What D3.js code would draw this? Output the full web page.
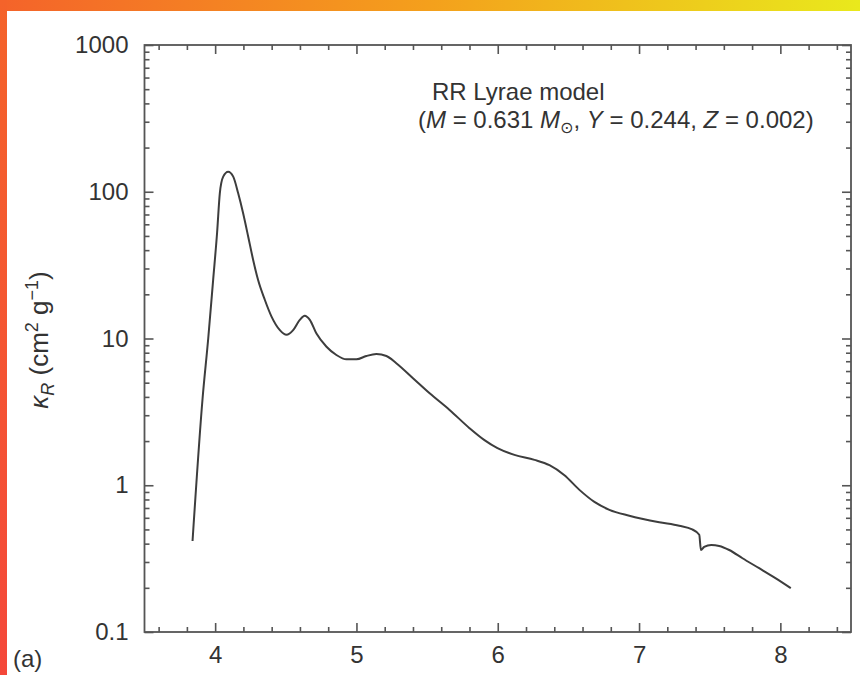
<!DOCTYPE html>
<html>
<head>
<meta charset="utf-8">
<script src="https://cdn.jsdelivr.net/npm/d3@7"></script>
<style>
  html, body { margin: 0; padding: 0; background: #fff; }
  svg { display: block; }
  text { font-family: "Liberation Sans", Arial, Helvetica, sans-serif; fill: #333; }
</style>
</head>
<body>
<svg id="chart" width="860" height="675"></svg>
<script>
// ---- data ----
const logT = [3.84, 3.911, 3.951, 3.986, 4.014, 4.033, 4.057, 4.092, 4.128, 4.163, 4.198, 4.234, 4.269, 4.304,
  4.352, 4.399, 4.458, 4.505, 4.552, 4.599, 4.634, 4.670, 4.717, 4.788, 4.858, 4.929, 5.0, 5.070, 5.141, 5.212,
  5.282, 5.400, 5.518, 5.659, 5.800, 5.906, 5.998, 6.118, 6.260, 6.366, 6.472, 6.578, 6.684, 6.790, 6.931,
  7.143, 7.284, 7.376, 7.426, 7.438, 7.461, 7.511, 7.567, 7.638, 7.732, 7.850, 7.968, 8.074];
const kappaR = [0.417, 3.9, 10.0, 25.2, 53.0, 97.5, 126.7, 137, 126.7, 97.5, 71.3, 49.4, 34.3, 25.0,
  18.3, 14.1, 11.4, 10.6, 11.4, 13.4, 14.3, 13.4, 10.8, 8.79, 7.72, 7.21, 7.21, 7.60, 7.84, 7.60,
  6.78, 5.36, 4.23, 3.26, 2.45, 2.03, 1.79, 1.61, 1.49, 1.37, 1.17, 0.93, 0.77, 0.68, 0.62,
  0.56, 0.53, 0.50, 0.46, 0.362, 0.38, 0.392, 0.386, 0.362, 0.318, 0.272, 0.232, 0.199];
const xTickValues = [4, 5, 6, 7, 8];
const xTickLabels = ["4", "5", "6", "7", "8"];
const yTickValues = [0.1, 1, 10, 100, 1000];
const yTickLabels = ["0.1", "1", "10", "100", "1000"];
const titleLine1 = "RR Lyrae model";

// ---- layout ----
const svg = d3.select("#chart");
const W = 860, H = 675;
const mLeft = 144.5, mRight = 851, mTop = 45, mBottom = 632;
const FS = "24px";

// background border gradients
const defs = svg.append("defs");
const gTop = defs.append("linearGradient").attr("id", "gTop").attr("x1", 0).attr("x2", 1).attr("y1", 0).attr("y2", 0);
gTop.append("stop").attr("offset", 0).attr("stop-color", "#f4632a");
gTop.append("stop").attr("offset", 0.5).attr("stop-color", "#f4a01c");
gTop.append("stop").attr("offset", 1).attr("stop-color", "#e9e91c");
const gLeft = defs.append("linearGradient").attr("id", "gLeft").attr("x1", 0).attr("x2", 0).attr("y1", 0).attr("y2", 1);
gLeft.append("stop").attr("offset", 0).attr("stop-color", "#f4632a");
gLeft.append("stop").attr("offset", 1).attr("stop-color", "#f4483a");
svg.append("rect").attr("x", 0).attr("y", 0).attr("width", W).attr("height", 11).attr("fill", "url(#gTop)");
svg.append("rect").attr("x", 0).attr("y", 0).attr("width", 7).attr("height", H).attr("fill", "url(#gLeft)");

const x = d3.scaleLinear().domain([3.5, 8.5]).range([mLeft, mRight]);
const y = d3.scaleLog().domain([0.1, 1000]).range([mBottom, mTop]);

const xMinor = d3.range(3.6, 8.45, 0.2).map(v => +v.toFixed(1)).filter(v => Math.abs(v - Math.round(v)) > 1e-6);
const yMinor = [];
[0.1, 1, 10, 100].forEach(d => { for (let k = 2; k <= 9; k++) yMinor.push(+(d * k).toPrecision(3)); });

const axStyle = g => {
  g.select(".domain").remove();
  g.selectAll(".tick line").attr("stroke", "#555").attr("stroke-width", 1.6);
  g.selectAll(".tick text").attr("fill", "#333").style("font-size", FS);
};

// bottom
svg.append("g").attr("transform", `translate(0,${mBottom})`)
  .call(d3.axisBottom(x).tickValues(xTickValues).tickFormat((d, i) => xTickLabels[i]).tickSize(-9).tickPadding(14))
  .call(axStyle);
svg.append("g").attr("transform", `translate(0,${mBottom})`)
  .call(d3.axisBottom(x).tickValues(xMinor).tickFormat("").tickSize(-5))
  .call(axStyle);
// top
svg.append("g").attr("transform", `translate(0,${mTop})`)
  .call(d3.axisTop(x).tickValues(xTickValues).tickFormat("").tickSize(-9))
  .call(axStyle);
svg.append("g").attr("transform", `translate(0,${mTop})`)
  .call(d3.axisTop(x).tickValues(xMinor).tickFormat("").tickSize(-5))
  .call(axStyle);
// left
svg.append("g").attr("transform", `translate(${mLeft},0)`)
  .call(d3.axisLeft(y).tickValues(yTickValues).tickFormat((d, i) => yTickLabels[i]).tickSize(-9).tickPadding(16))
  .call(axStyle);
svg.append("g").attr("transform", `translate(${mLeft},0)`)
  .call(d3.axisLeft(y).tickValues(yMinor).tickFormat("").tickSize(-5))
  .call(axStyle);
// right
svg.append("g").attr("transform", `translate(${mRight},0)`)
  .call(d3.axisRight(y).tickValues(yTickValues).tickFormat("").tickSize(-9))
  .call(axStyle);
svg.append("g").attr("transform", `translate(${mRight},0)`)
  .call(d3.axisRight(y).tickValues(yMinor).tickFormat("").tickSize(-5))
  .call(axStyle);

// frame
svg.append("rect").attr("x", mLeft).attr("y", mTop).attr("width", mRight - mLeft).attr("height", mBottom - mTop)
  .attr("fill", "none").attr("stroke", "#555").attr("stroke-width", 1.8);

// curve
const pts = logT.map((t, i) => [t, kappaR[i]]);
const line = d3.line().x(d => x(d[0])).y(d => y(d[1])).curve(d3.curveMonotoneX);
svg.append("path").datum(pts).attr("d", line)
  .attr("fill", "none").attr("stroke", "#3d3d3d").attr("stroke-width", 2).attr("stroke-linejoin", "round");

// annotation
svg.append("text").attr("x", 432).attr("y", 100).style("font-size", FS).text(titleLine1);
const t2 = svg.append("text").attr("x", 418).attr("y", 128).style("font-size", FS);
t2.append("tspan").text("(");
t2.append("tspan").style("font-style", "italic").text("M");
t2.append("tspan").text(" = 0.631 ");
t2.append("tspan").style("font-style", "italic").text("M");
t2.append("tspan").attr("dy", 5).style("font-size", "16px").style("font-family", "DejaVu Sans").text("\u2299");
t2.append("tspan").attr("dy", -5).text(", ");
t2.append("tspan").style("font-style", "italic").text("Y");
t2.append("tspan").text(" = 0.244, ");
t2.append("tspan").style("font-style", "italic").text("Z");
t2.append("tspan").text(" = 0.002)");

// y label
const yl = svg.append("text").attr("transform", "translate(48,340) rotate(-90)")
  .attr("text-anchor", "middle").style("font-size", "26px");
yl.append("tspan").style("font-style", "italic").text("\u03BA");
yl.append("tspan").attr("dy", 6).style("font-size", "18px").style("font-style", "italic").text("R");
yl.append("tspan").attr("dy", -6).text(" (cm");
yl.append("tspan").attr("dy", -10).style("font-size", "18px").text("2");
yl.append("tspan").attr("dy", 10).text(" g");
yl.append("tspan").attr("dy", -10).style("font-size", "18px").text("\u22121");
yl.append("tspan").attr("dy", 10).text(")");

// panel label
svg.append("text").attr("x", 13).attr("y", 667).style("font-size", FS).text("(a)");
</script>
</body>
</html>
